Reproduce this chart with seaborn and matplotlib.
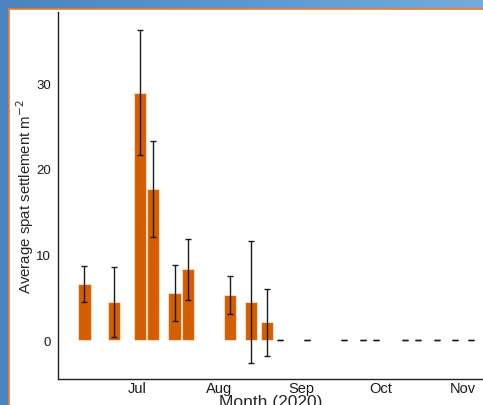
import matplotlib
matplotlib.use("Agg")
import matplotlib.pyplot as plt
import matplotlib.dates as mdates
from matplotlib.patches import Rectangle
import numpy as np
import pandas as pd
import seaborn as sns

# sampling dates and mean spat settlement (per m^2) with standard error
sample_dates = ["2020-06-11", "2020-06-22", "2020-07-02", "2020-07-07", "2020-07-15",
                "2020-07-20", "2020-08-05", "2020-08-13", "2020-08-19", "2020-08-24",
                "2020-09-03", "2020-09-17", "2020-09-24", "2020-09-29", "2020-10-10",
                "2020-10-15", "2020-10-22", "2020-10-29", "2020-11-04"]
spat_mean = [6.5, 4.45, 28.9, 17.6, 5.5, 8.25, 5.25, 4.45, 2.05,
             0, 0, 0, 0, 0, 0, 0, 0, 0, 0]
spat_se = [2.1, 4.1, 7.3, 5.6, 3.3, 3.6, 2.25, 7.1, 3.95,
           0, 0, 0, 0, 0, 0, 0, 0, 0, 0]

df = pd.DataFrame({"date": pd.to_datetime(sample_dates), "mean": spat_mean, "se": spat_se})
df["xnum"] = mdates.date2num(df["date"])

sns.set_style("white")
plt.rcParams["font.family"] = ["Liberation Sans", "DejaVu Sans"]

fig = plt.figure(figsize=(4.83, 4.06), dpi=100)

# window frame of the screenshot
bg = fig.add_axes([0, 0, 1, 1], zorder=-10)
grad = np.linspace(0, 1, 256).reshape(1, -1)
cmap = matplotlib.colors.LinearSegmentedColormap.from_list("frame", ["#4a84c0", "#5b98d2", "#74abdc"])
bg.imshow(grad, aspect="auto", cmap=cmap, extent=[0, 1, 0, 1])
bg.add_patch(Rectangle((8.5 / 483, -0.01), 1.0, (406 - 9.5) / 406 + 0.01,
                       facecolor="white", edgecolor="#f07a2a", linewidth=1.2,
                       transform=bg.transAxes))
bg.set_xlim(0, 1)
bg.set_ylim(0, 1)
bg.axis("off")

ax = fig.add_axes([58 / 483, 26 / 406, (483 - 58) / 483, (380 - 13) / 406])
ax.patch.set_alpha(0)

sns.barplot(data=df, x="xnum", y="mean", native_scale=True, width=0.92,
            color="#D55E00", edgecolor=(1, 1, 1, 0.55), linewidth=0.8,
            saturation=1, errorbar=None, ax=ax)
ax.errorbar(df["xnum"], df["mean"], yerr=df["se"], fmt="none", ecolor="#1a1a1a",
            elinewidth=1, capsize=2, capthick=1)

ax.set_xlim(mdates.date2num(pd.Timestamp("2020-06-01")), mdates.date2num(pd.Timestamp("2020-11-08 12:00")))
ax.set_ylim(-4.55, 38.3)
ax.xaxis.set_major_locator(mdates.MonthLocator(bymonth=[7, 8, 9, 10, 11]))
ax.xaxis.set_major_formatter(mdates.DateFormatter("%b"))
ax.set_yticks([0, 10, 20, 30])

sns.despine(ax=ax)
for s in ["left", "bottom"]:
    ax.spines[s].set_color("#222222")
    ax.spines[s].set_linewidth(1.0)
ax.tick_params(axis="y", length=3, width=0.8, color="#444444",
               labelsize=9.5, labelcolor="#1a1a1a", pad=2)
ax.tick_params(axis="x", length=1.5, width=0.8, color="#444444",
               labelsize=10.5, labelcolor="#1a1a1a", pad=0)

ax.set_ylabel("Average spat settlement m$^{-2}$", fontsize=10.8, labelpad=0)
ax.set_xlabel("Month (2020)", fontsize=12.5, labelpad=-1)

fig.savefig("out.png", dpi=100)
